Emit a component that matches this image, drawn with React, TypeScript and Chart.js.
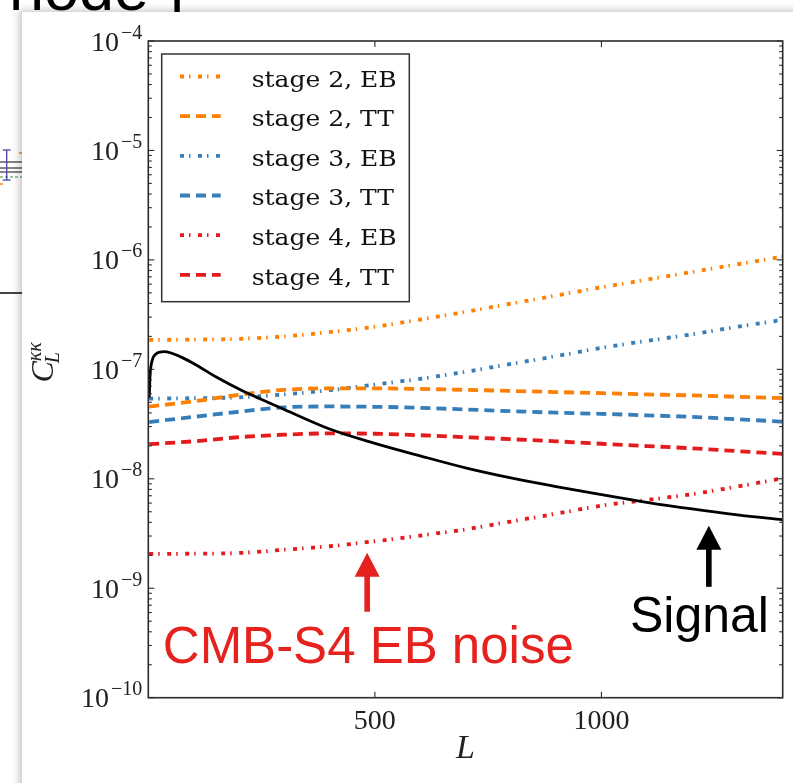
import React, { useEffect, useRef } from "react";
import { Chart, registerables } from "chart.js";

Chart.register(...registerables);

// Reconstruction noise curves, sampled in multipole L
const multipoleL = [2, 100, 200, 300, 400, 500, 600, 700, 800, 900, 1000, 1100, 1200, 1300, 1400];
const stage2EB = [1.86e-7, 1.87e-7, 1.9e-7, 2.0e-7, 2.19e-7, 2.45e-7, 2.85e-7, 3.35e-7, 3.98e-7, 4.73e-7, 5.62e-7, 6.6e-7, 7.76e-7, 9.1e-7, 1.07e-6];
const stage2TT = [4.57e-8, 5.1e-8, 5.85e-8, 6.5e-8, 6.7e-8, 6.7e-8, 6.62e-8, 6.5e-8, 6.35e-8, 6.2e-8, 6.06e-8, 5.9e-8, 5.78e-8, 5.62e-8, 5.46e-8];
const stage3EB = [5.4e-8, 5.45e-8, 5.55e-8, 5.9e-8, 6.45e-8, 7.25e-8, 8.2e-8, 9.5e-8, 1.12e-7, 1.32e-7, 1.57e-7, 1.82e-7, 2.09e-7, 2.45e-7, 2.83e-7];
const stage3TT = [3.3e-8, 3.68e-8, 4.1e-8, 4.5e-8, 4.58e-8, 4.55e-8, 4.45e-8, 4.3e-8, 4.15e-8, 4.02e-8, 3.92e-8, 3.8e-8, 3.68e-8, 3.5e-8, 3.33e-8];
const stage4EB = [2.06e-9, 2.07e-9, 2.1e-9, 2.25e-9, 2.42e-9, 2.69e-9, 3.03e-9, 3.45e-9, 4.07e-9, 4.8e-9, 5.68e-9, 6.4e-9, 7.24e-9, 8.5e-9, 1.01e-8];
const stage4TT = [2.07e-8, 2.2e-8, 2.4e-8, 2.53e-8, 2.6e-8, 2.58e-8, 2.5e-8, 2.4e-8, 2.3e-8, 2.2e-8, 2.09e-8, 1.99e-8, 1.9e-8, 1.79e-8, 1.69e-8];

// Lensing convergence power spectrum (the signal)
const signalL = [2, 4, 6, 10, 15, 25, 35, 50, 75, 100, 150, 200, 250, 300, 400, 500, 600, 700, 800, 900, 1000, 1100, 1200, 1300, 1400];
const signalCl = [5.5e-8, 9.0e-8, 1.08e-7, 1.26e-7, 1.36e-7, 1.44e-7, 1.45e-7, 1.41e-7, 1.28e-7, 1.13e-7, 8.5e-8, 6.6e-8, 5.3e-8, 4.3e-8, 2.85e-8, 2.11e-8, 1.62e-8, 1.26e-8, 1.02e-8, 8.5e-9, 7.16e-9, 6.1e-9, 5.3e-9, 4.68e-9, 4.22e-9];

const seriesLabels = ["stage 2, EB", "stage 2, TT", "stage 3, EB", "stage 3, TT", "stage 4, EB", "stage 4, TT"];
const yTickExponents = [-10, -9, -8, -7, -6, -5, -4];
const xTickValues = [500, 1000];

// Arrow annotations: tail and tip in data coordinates, text anchored at (textL, textC)
const annotations = [
  { text: "CMB-S4 EB noise", color: "#e5221e", size: 51, L: 483, tail: 6.1e-10, tip: 2.11e-9, textL: 32, textC: 2.09e-10 },
  { text: "Signal", color: "#000000", size: 50, L: 1237, tail: 1.03e-9, tip: 3.72e-9, textL: 1063, textC: 4.0e-10 },
];

const ORANGE = "#ff7f00";
const BLUE = "#377eb8";
const RED = "#e41a1c";
const AXIS = "#2b2b2b";
const DASHED = [10, 6];
const DASH_DOT = [4, 5, 1.5, 7.5];

const noiseSeries = [
  { data: stage2EB, color: ORANGE, dash: DASH_DOT },
  { data: stage2TT, color: ORANGE, dash: DASHED },
  { data: stage3EB, color: BLUE, dash: DASH_DOT },
  { data: stage3TT, color: BLUE, dash: DASHED },
  { data: stage4EB, color: RED, dash: DASH_DOT },
  { data: stage4TT, color: RED, dash: DASHED },
];

const SERIF = '"Liberation Serif", "DejaVu Serif", serif';
const LEGEND_SERIF = '"DejaVu Serif", "Liberation Serif", serif';
const SANS = '"Liberation Sans", Arial, sans-serif';

function seg(ctx: CanvasRenderingContext2D, x1: number, y1: number, x2: number, y2: number) {
  ctx.beginPath();
  ctx.moveTo(x1, y1);
  ctx.lineTo(x2, y2);
  ctx.stroke();
}

function drawPower(ctx: CanvasRenderingContext2D, exp: number, xRight: number, yMid: number) {
  const base = "10";
  const sup = "\u2212" + Math.abs(exp);
  ctx.font = `28px ${SERIF}`;
  const wb = ctx.measureText(base).width;
  ctx.font = `20px ${SERIF}`;
  const ws = ctx.measureText(sup).width;
  const x0 = xRight - wb - ws - 2;
  ctx.font = `28px ${SERIF}`;
  ctx.fillText(base, x0, yMid + 9.5);
  ctx.font = `20px ${SERIF}`;
  ctx.fillText(sup, x0 + wb + 2, yMid - 2.5);
}

const decorPlugin = {
  id: "decor",
  afterDatasetsDraw(chart: any) {
    const { ctx, chartArea: a, scales } = chart;
    const xs = scales.x;
    const ys = scales.y;
    ctx.save();
    ctx.setLineDash([]);
    ctx.strokeStyle = AXIS;
    ctx.fillStyle = AXIS;

    // frame
    ctx.lineWidth = 1.6;
    ctx.strokeRect(a.left, a.top, a.right - a.left, a.bottom - a.top);

    // log ticks on left and right
    ctx.lineWidth = 1.1;
    for (let i = 0; i < yTickExponents.length; i++) {
      const e = yTickExponents[i];
      const maxM = i === yTickExponents.length - 1 ? 1 : 9;
      for (let m = 1; m <= maxM; m++) {
        const py = ys.getPixelForValue(m * Math.pow(10, e));
        const len = m === 1 ? 6 : 3.5;
        seg(ctx, a.left, py, a.left + len, py);
        seg(ctx, a.right, py, a.right - len, py);
      }
    }
    for (const t of xTickValues) {
      const px = xs.getPixelForValue(t);
      seg(ctx, px, a.bottom, px, a.bottom - 6);
      seg(ctx, px, a.top, px, a.top + 6);
    }

    // tick labels
    ctx.fillStyle = "#222";
    ctx.textBaseline = "alphabetic";
    ctx.textAlign = "left";
    for (const e of yTickExponents) {
      drawPower(ctx, e, a.left - 6, ys.getPixelForValue(Math.pow(10, e)));
    }
    ctx.textAlign = "center";
    ctx.font = `28px ${SERIF}`;
    for (const t of xTickValues) {
      ctx.fillText(String(t), xs.getPixelForValue(t), a.bottom + 31);
    }

    // x axis title
    ctx.font = `italic 34px ${SERIF}`;
    ctx.fillText("L", (a.left + a.right) / 2, a.bottom + 60);

    // y axis title: C_L^{kappa kappa}, rotated
    ctx.save();
    ctx.translate(a.left - 95, (a.top + a.bottom) / 2 - 7);
    ctx.rotate(-Math.PI / 2);
    ctx.textAlign = "left";
    ctx.font = `italic 32px ${SERIF}`;
    const wC = ctx.measureText("C").width;
    ctx.font = `italic 20px ${SERIF}`;
    const wK = ctx.measureText("\u03BA\u03BA").width;
    const total = wC + wK;
    const sx0 = -total / 2;
    ctx.font = `italic 32px ${SERIF}`;
    ctx.fillText("C", sx0, 0);
    ctx.font = `italic 20px ${SERIF}`;
    ctx.fillText("L", sx0 + wC - 2, 6);
    ctx.fillText("\u03BA\u03BA", sx0 + wC, -12);
    ctx.restore();

    // legend
    const bx = a.left + 13.4;
    const by = a.top + 13;
    const bw = 247.6;
    const bh = 247.7;
    ctx.fillStyle = "#ffffff";
    ctx.fillRect(bx, by, bw, bh);
    ctx.strokeStyle = "#333";
    ctx.lineWidth = 1.5;
    ctx.strokeRect(bx, by, bw, bh);
    ctx.font = `22px ${LEGEND_SERIF}`;
    const sxText = 145 / ctx.measureText(seriesLabels[0]).width;
    const sets = chart.data.datasets.filter((d: any) => d.inLegend);
    sets.forEach((d: any, i: number) => {
      const cy = by + 22.5 + i * 39.66;
      ctx.strokeStyle = d.borderColor;
      ctx.lineWidth = d.borderWidth;
      ctx.setLineDash(d.borderDash || []);
      seg(ctx, bx + 18.3, cy, bx + 59, cy);
      ctx.setLineDash([]);
      ctx.save();
      ctx.translate(bx + 90, cy + 10);
      ctx.scale(sxText, 1);
      ctx.fillStyle = "#111";
      ctx.textAlign = "left";
      ctx.fillText(d.label, 0, 0);
      ctx.restore();
    });

    // arrows and notes
    for (const n of annotations) {
      const px = xs.getPixelForValue(n.L);
      const yTail = ys.getPixelForValue(n.tail);
      const yTip = ys.getPixelForValue(n.tip);
      const headLen = 24;
      const headHalf = 12.5;
      ctx.fillStyle = n.color;
      ctx.fillRect(px - 2.8, yTip + headLen - 1, 5.6, yTail - yTip - headLen + 1);
      ctx.beginPath();
      ctx.moveTo(px, yTip);
      ctx.lineTo(px - headHalf, yTip + headLen);
      ctx.lineTo(px + headHalf, yTip + headLen);
      ctx.closePath();
      ctx.fill();
      ctx.font = `${n.size}px ${SANS}`;
      ctx.textAlign = "left";
      ctx.fillText(n.text, xs.getPixelForValue(n.textL), ys.getPixelForValue(n.textC));
    }
    ctx.restore();
  },
};

export default function App() {
  const canvasRef = useRef<HTMLCanvasElement | null>(null);

  useEffect(() => {
    const canvas = canvasRef.current;
    if (!canvas) return;
    const datasets: any[] = [
      {
        label: "Signal",
        data: signalL.map((x, i) => ({ x, y: signalCl[i] })),
        borderColor: "#000000",
        borderWidth: 2.8,
        borderDash: [],
        inLegend: false,
      },
      ...noiseSeries.map((s, k) => ({
        label: seriesLabels[k],
        data: multipoleL.map((x, i) => ({ x, y: s.data[i] })),
        borderColor: s.color,
        borderWidth: 3.8,
        borderDash: s.dash,
        inLegend: true,
      })),
    ].map((d) => ({
      ...d,
      fill: false,
      pointRadius: 0,
      borderCapStyle: "butt",
      cubicInterpolationMode: "monotone",
    }));

    const chart = new Chart(canvas, {
      type: "line",
      data: { datasets },
      options: {
        animation: false,
        responsive: false,
        devicePixelRatio: 1,
        layout: { padding: { left: 126.3, top: 29, right: 10.3, bottom: 85.3 } },
        scales: {
          x: { type: "linear", min: 0, max: 1400, display: false },
          y: { type: "logarithmic", min: 1e-10, max: 1e-4, display: false },
        },
        plugins: { legend: { display: false }, tooltip: { enabled: false } },
      },
      plugins: [decorPlugin],
    } as any);
    return () => chart.destroy();
  }, []);

  return (
    <div style={{ position: "fixed", left: 0, top: 0, width: 793, height: 783, background: "#fff", overflow: "hidden" }}>
      <div
        style={{
          position: "absolute",
          left: 9,
          top: -43.3,
          font: `63px ${SANS}`,
          lineHeight: "63px",
          color: "#000",
          whiteSpace: "pre",
        }}
      >
        node ]
      </div>
      <svg width={22} height={783} style={{ position: "absolute", left: 0, top: 0 }}>
        <line x1={0} y1={162} x2={22} y2={162} stroke="#333" strokeWidth={1.2} />
        <line x1={0} y1={168} x2={22} y2={168} stroke="#333" strokeWidth={1.2} />
        <line x1={0} y1={172} x2={22} y2={172} stroke="#333" strokeWidth={1.2} />
        <line x1={0} y1={177} x2={22} y2={177} stroke="#3a8a3a" strokeWidth={1.2} strokeDasharray="3 2" />
        <line x1={6.7} y1={150} x2={6.7} y2={180} stroke="#5050a8" strokeWidth={1.4} />
        <line x1={2.7} y1={150} x2={10.7} y2={150} stroke="#5050a8" strokeWidth={1.4} />
        <line x1={2.7} y1={180} x2={10.7} y2={180} stroke="#5050a8" strokeWidth={1.4} />
        <line x1={19} y1={153} x2={22} y2={153} stroke="#ff7f00" strokeWidth={1.4} />
        <line x1={0} y1={184} x2={3} y2={184} stroke="#ff7f00" strokeWidth={1.4} />
        <line x1={0} y1={293} x2={22} y2={293} stroke="#444" strokeWidth={2} />
      </svg>
      <div
        style={{
          position: "absolute",
          left: 22,
          top: 12,
          width: 800,
          height: 800,
          background: "#fff",
          boxShadow: "-3px -2px 7px rgba(0,0,0,0.22)",
        }}
      >
        <canvas ref={canvasRef} width={771} height={771} style={{ display: "block" }} />
      </div>
    </div>
  );
}
